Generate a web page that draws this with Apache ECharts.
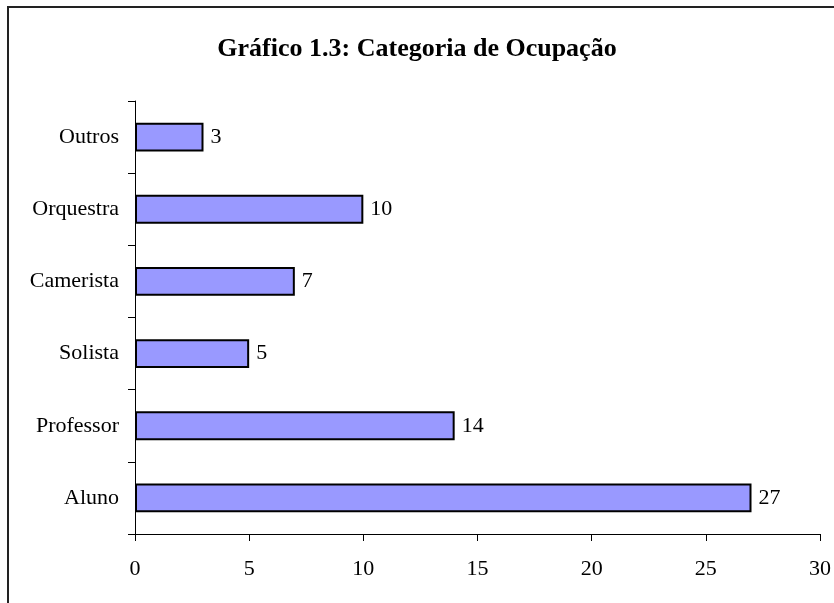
<!DOCTYPE html>
<html>
<head>
<meta charset="utf-8">
<script src="https://cdn.jsdelivr.net/npm/echarts@6/dist/echarts.min.js"></script>
<style>
  html, body { margin: 0; padding: 0; background: #fff; }
  #wrap { position: relative; width: 834px; height: 603px; overflow: hidden; }
  #frame { position: absolute; left: 7px; top: 6px; width: 900px; height: 700px;
           border-left: 2px solid #222; border-top: 2px solid #222; }
  #chart { position: absolute; left: 0; top: 0; width: 834px; height: 603px; }
</style>
</head>
<body>
<div id="wrap">
  <div id="frame"></div>
  <div id="chart"></div>
</div>
<script>
  // dados do gráfico (de baixo para cima)
  var categorias = ['Aluno', 'Professor', 'Solista', 'Camerista', 'Orquestra', 'Outros'];
  var valores = [27, 14, 5, 7, 10, 3];
  var titulo = 'Gráfico 1.3: Categoria de Ocupação';

  var fonte = '"Liberation Serif", "Times New Roman", serif';
  var myChart = echarts.init(document.getElementById('chart'));

  var option = {
    animation: false,
    textStyle: { fontFamily: fonte },
    title: {
      text: titulo,
      left: 'center',
      top: 31,
      textStyle: { fontFamily: fonte, fontSize: 26, fontWeight: 'bold', color: '#000' }
    },
    grid: { left: 135, right: 14, top: 101, bottom: 69 },
    xAxis: {
      type: 'value',
      min: 0,
      max: 30,
      interval: 5,
      splitLine: { show: false },
      axisLine: { show: true, lineStyle: { color: '#000', width: 1 } },
      axisTick: { show: true, length: 7, lineStyle: { color: '#000' } },
      axisLabel: { color: '#000', fontSize: 22, margin: 24, fontFamily: fonte }
    },
    yAxis: {
      type: 'category',
      data: categorias,
      axisLine: { show: true, lineStyle: { color: '#000', width: 1 } },
      axisTick: { show: true, length: 7, alignWithLabel: false, lineStyle: { color: '#000' } },
      axisLabel: { color: '#000', fontSize: 22, margin: 16, fontFamily: fonte }
    },
    series: [{
      type: 'bar',
      data: valores,
      barWidth: '40%',
      itemStyle: { color: '#9999FF', borderColor: '#000', borderWidth: 2 },
      label: {
        show: true,
        position: 'right',
        distance: 7,
        color: '#000',
        fontSize: 22,
        fontFamily: fonte
      }
    }]
  };

  myChart.setOption(option);
</script>
</body>
</html>
